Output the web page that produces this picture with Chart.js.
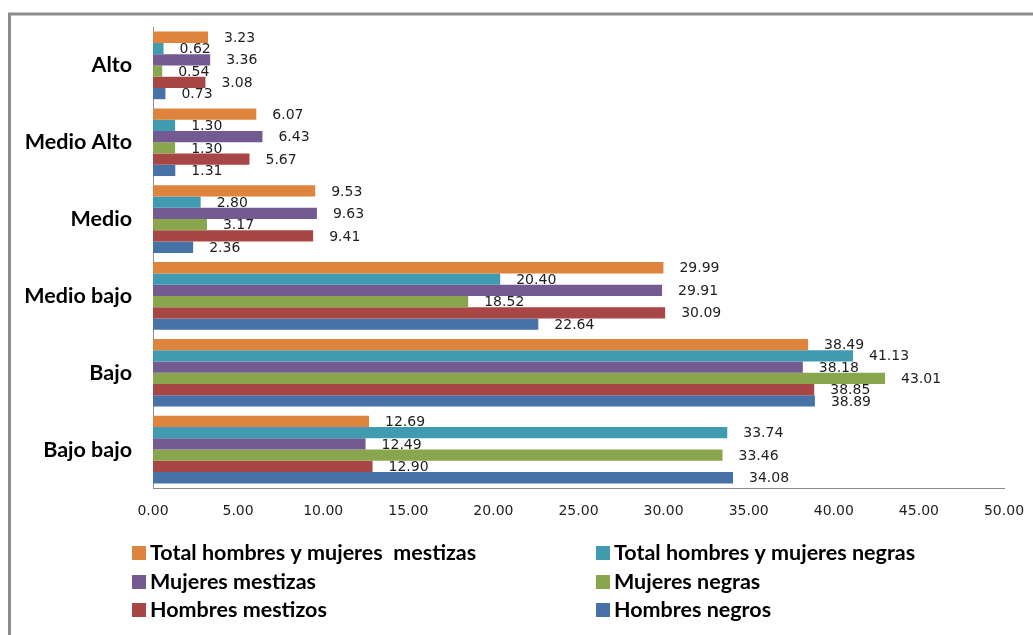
<!DOCTYPE html>
<html>
<head>
<meta charset="utf-8">
<script src="https://cdn.jsdelivr.net/npm/chart.js@4/dist/chart.umd.min.js"></script>
<style>
  html, body { margin: 0; padding: 0; background: #fff; }
  #wrap { width: 1033px; height: 635px; position: relative; }
</style>
</head>
<body>
<div id="wrap"><canvas id="c" width="1033" height="635"></canvas></div>
<script>
const categories = ["Alto", "Medio Alto", "Medio", "Medio bajo", "Bajo", "Bajo bajo"];
const seriesNames = [
  "Total hombres y mujeres  mestizas",
  "Total hombres y mujeres negras",
  "Mujeres mestizas",
  "Mujeres negras",
  "Hombres mestizos",
  "Hombres negros"
];
const totalMestizas = [3.23, 6.07, 9.53, 29.99, 38.49, 12.69];
const totalNegras   = [0.62, 1.30, 2.80, 20.40, 41.13, 33.74];
const mujeresMestizas = [3.36, 6.43, 9.63, 29.91, 38.18, 12.49];
const mujeresNegras   = [0.54, 1.30, 3.17, 18.52, 43.01, 33.46];
const hombresMestizos = [3.08, 5.67, 9.41, 30.09, 38.85, 12.90];
const hombresNegros   = [0.73, 1.31, 2.36, 22.64, 38.89, 34.08];
const xTicks = [0, 5, 10, 15, 20, 25, 30, 35, 40, 45, 50];

const colors = ["#DE843E", "#409BB0", "#735A91", "#89A64E", "#A84646", "#4672A8"];
const seriesValues = [totalMestizas, totalNegras, mujeresMestizas, mujeresNegras, hombresMestizos, hombresNegros];

const datasets = seriesValues.map((vals, i) => ({
  label: seriesNames[i],
  data: vals,
  backgroundColor: colors[i],
  borderWidth: 0,
  categoryPercentage: 0.88,
  barPercentage: 1.0
}));

const framePlugin = {
  id: 'frame',
  beforeDraw(chart) {
    const ctx = chart.ctx;
    ctx.save();
    ctx.fillStyle = '#fff';
    ctx.fillRect(0, 0, chart.width, chart.height);
    ctx.strokeStyle = '#8c8c8c';
    ctx.lineWidth = 3;
    ctx.beginPath();
    ctx.moveTo(9.5, 700);
    ctx.lineTo(9.5, 14);
    ctx.lineTo(1100, 14);
    ctx.stroke();
    ctx.restore();
  }
};

const labelPlugin = {
  id: 'barLabels',
  afterDatasetsDraw(chart) {
    const ctx = chart.ctx;
    ctx.save();
    ctx.font = '14px "DejaVu Sans"';
    ctx.fillStyle = '#1e1e1e';
    ctx.textAlign = 'left';
    ctx.textBaseline = 'middle';
    chart.data.datasets.forEach((ds, di) => {
      const meta = chart.getDatasetMeta(di);
      meta.data.forEach((bar, i) => {
        ctx.fillText(ds.data[i].toFixed(2), bar.x + 16, bar.y + 1);
      });
    });
    ctx.restore();
  }
};

const legendPlugin = {
  id: 'gridLegend',
  afterDraw(chart) {
    const ctx = chart.ctx;
    ctx.save();
    ctx.font = 'bold 21.5px Lato';
    ctx.textBaseline = 'middle';
    ctx.textAlign = 'left';
    const colX = [132, 596];
    const rowY = [553, 582, 610];
    chart.data.datasets.forEach((ds, i) => {
      const c = i % 2, r = Math.floor(i / 2);
      ctx.fillStyle = ds.backgroundColor;
      ctx.fillRect(colX[c], rowY[r] - 7, 14, 14);
      ctx.fillStyle = '#000';
      ctx.fillText(ds.label, colX[c] + 18, rowY[r]);
    });
    ctx.restore();
  }
};

new Chart(document.getElementById('c'), {
  type: 'bar',
  data: { labels: categories, datasets },
  options: {
    indexAxis: 'y',
    responsive: false,
    animation: false,
    layout: { padding: { top: 27, right: 29, left: 0, bottom: 0 } },
    plugins: { legend: { display: false }, tooltip: { enabled: false } },
    scales: {
      x: {
        min: 0, max: 50,
        afterBuildTicks(scale) { scale.ticks = xTicks.map(v => ({ value: v })); },
        afterFit(scale) {
          scale.height = 635 - 488;
          scale.paddingLeft = 0; scale.paddingRight = 0;
        },
        grid: { display: false, drawTicks: false },
        border: { display: true, color: '#8c8c8c', width: 1 },
        ticks: {
          padding: 15,
          color: '#1e1e1e',
          font: { family: 'DejaVu Sans', size: 14 },
          callback: (v) => Number(v).toFixed(2)
        }
      },
      y: {
        afterFit(scale) {
          scale.width = 153;
          scale.paddingTop = 0; scale.paddingBottom = 0;
        },
        grid: { display: false, drawTicks: false },
        border: { display: true, color: '#8c8c8c', width: 1 },
        ticks: {
          padding: 21,
          color: '#000',
          font: { family: 'Lato', size: 21.5, weight: 'bold' }
        }
      }
    }
  },
  plugins: [framePlugin, labelPlugin, legendPlugin]
});
</script>
</body>
</html>
